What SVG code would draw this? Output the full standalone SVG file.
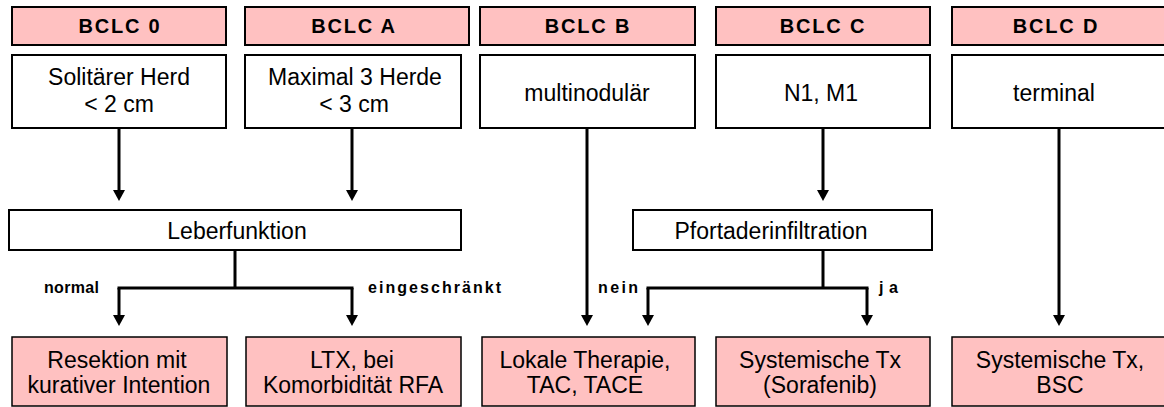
<svg xmlns="http://www.w3.org/2000/svg" width="1164" height="407" viewBox="0 0 1164 407">
<style>
.hdr{fill:#FFC1C1;stroke:#000;stroke-width:2}
.box{fill:#fff;stroke:#000;stroke-width:2}
.res{fill:#FFC1C1;stroke:#000;stroke-width:1.5}
.ht{font-family:"Liberation Sans",Arial,sans-serif;font-weight:bold;font-size:20px;letter-spacing:1.8px;text-anchor:middle;fill:#000}
.t{font-family:"Liberation Sans",Arial,sans-serif;font-size:23px;text-anchor:middle;fill:#000}
.lbl{font-family:"Liberation Sans",Arial,sans-serif;font-weight:bold;font-size:16px;fill:#000}
.c{fill:none;stroke:#000;stroke-width:3}
</style>
<defs>
<marker id="ah" markerUnits="userSpaceOnUse" viewBox="0 -6 11 12" markerWidth="11" markerHeight="12" refX="0" refY="0" orient="auto">
<path d="M0,-6 L11,0 L0,6 z" fill="#000"/>
</marker>
</defs>
<g id="connectors">
<path class="c" d="M119,128 V190" marker-end="url(#ah)"/>
<path class="c" d="M352,128 V190" marker-end="url(#ah)"/>
<path class="c" d="M235,250 V288 M117.5,288 H353.5"/>
<path class="c" d="M119,288 V315" marker-end="url(#ah)"/>
<path class="c" d="M352,288 V315" marker-end="url(#ah)"/>
<path class="c" d="M587,128 V315" marker-end="url(#ah)"/>
<path class="c" d="M823,128 V190" marker-end="url(#ah)"/>
<path class="c" d="M823,250 V288 M646.5,288 H868.5"/>
<path class="c" d="M648,288 V315" marker-end="url(#ah)"/>
<path class="c" d="M867,288 V315" marker-end="url(#ah)"/>
<path class="c" d="M1059,128 V315" marker-end="url(#ah)"/>
<text class="lbl" x="44" y="293" textLength="55" lengthAdjust="spacing">normal</text>
<text class="lbl" x="368" y="293" textLength="133" lengthAdjust="spacing">eingeschränkt</text>
<text class="lbl" x="598" y="293" textLength="40" lengthAdjust="spacing">nein</text>
<text class="lbl" x="879" y="293" textLength="19" lengthAdjust="spacing">ja</text>
</g>
<g id="bclc0">
<rect class="hdr" x="12" y="7" width="214" height="38"/>
<text class="ht" x="120" y="33">BCLC 0</text>
</g>
<g id="bclcA">
<rect class="hdr" x="245" y="7" width="224" height="38"/>
<text class="ht" x="354" y="33">BCLC A</text>
</g>
<g id="bclcB">
<rect class="hdr" x="480" y="7" width="215" height="38"/>
<text class="ht" x="588" y="33">BCLC B</text>
</g>
<g id="bclcC">
<rect class="hdr" x="716" y="7" width="214" height="38"/>
<text class="ht" x="823" y="33">BCLC C</text>
</g>
<g id="bclcD">
<rect class="hdr" x="952" y="7" width="214" height="38"/>
<text class="ht" x="1056" y="33">BCLC D</text>
</g>
<g id="solitaer">
<rect class="box" x="12" y="55" width="214" height="73"/>
<text class="t" x="119" y="85">Solitärer Herd</text>
<text class="t" x="119" y="112">&lt; 2 cm</text>
</g>
<g id="maximal">
<rect class="box" x="245" y="55" width="216" height="73"/>
<text class="t" x="355" y="85">Maximal 3 Herde</text>
<text class="t" x="354" y="112">&lt; 3 cm</text>
</g>
<g id="multinodular">
<rect class="box" x="480" y="55" width="215" height="73"/>
<text class="t" x="587" y="101">multinodulär</text>
</g>
<g id="n1m1">
<rect class="box" x="716" y="55" width="214" height="73"/>
<text class="t" x="821" y="101">N1, M1</text>
</g>
<g id="terminal">
<rect class="box" x="952" y="55" width="214" height="73"/>
<text class="t" x="1054" y="101">terminal</text>
</g>
<g id="leberfunktion">
<rect class="box" x="9" y="210" width="452" height="40"/>
<text class="t" x="237" y="239">Leberfunktion</text>
</g>
<g id="pfortader">
<rect class="box" x="633" y="210" width="299" height="40"/>
<text class="t" x="771" y="239">Pfortaderinfiltration</text>
</g>
<g id="resektion">
<rect class="res" x="12" y="337" width="215" height="69"/>
<text class="t" x="117" y="368">Resektion mit</text>
<text class="t" x="119" y="393">kurativer Intention</text>
</g>
<g id="ltx">
<rect class="res" x="246" y="337" width="215" height="69"/>
<text class="t" x="352" y="368">LTX, bei</text>
<text class="t" x="353" y="393">Komorbidität RFA</text>
</g>
<g id="lokale">
<rect class="res" x="482" y="337" width="213" height="69"/>
<text class="t" x="585" y="368">Lokale Therapie,</text>
<text class="t" x="585" y="393">TAC, TACE</text>
</g>
<g id="systemischC">
<rect class="res" x="716" y="337" width="214" height="69"/>
<text class="t" x="820" y="368">Systemische Tx</text>
<text class="t" x="820" y="393">(Sorafenib)</text>
</g>
<g id="systemischD">
<rect class="res" x="952" y="337" width="214" height="69"/>
<text class="t" x="1060" y="368">Systemische Tx,</text>
<text class="t" x="1060" y="393">BSC</text>
</g>
</svg>
